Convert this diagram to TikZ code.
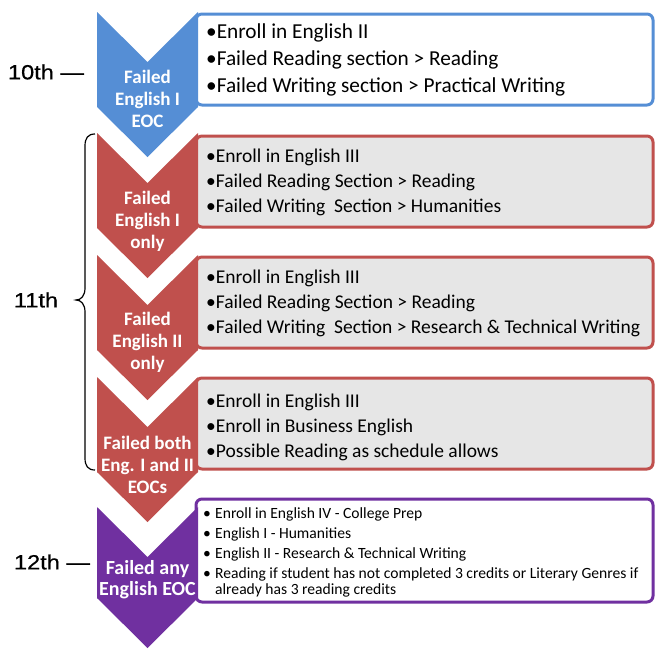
\documentclass[tikz,border=0pt]{standalone}
\usepackage{fontspec}
\setmainfont{Carlito}
\newfontfamily\labfont[FakeStretch=1.15,FakeBold=0.6]{Liberation Sans}
\definecolor{cblue}{HTML}{558ED5}
\definecolor{cred}{HTML}{C0504D}
\definecolor{cpurple}{HTML}{7030A0}
\definecolor{cgray}{HTML}{E6E6E6}
\tikzset{
  boxbase/.style={line width=3pt, rounded corners=6pt},
  chevtext/.style={text=white, font=\bfseries\fontsize{19}{22}\selectfont, align=center, inner sep=0pt},
  boxtext/.style={anchor=west, align=left, inner sep=0pt, text=black},
  gradelab/.style={font=\labfont\fontsize{20.5}{24}\selectfont, inner sep=0pt}
}
\begin{document}
\begin{tikzpicture}[x=1pt,y=-1pt]
\useasboundingbox[fill=white] (0,0) rectangle (655,648);
% boxes
\draw[boxbase, draw=cblue, fill=white] (196,14) rectangle (653,105);
\draw[boxbase, draw=cred, fill=cgray] (196,136) rectangle (653,227);
\draw[boxbase, draw=cred, fill=cgray] (196,257) rectangle (653,348);
\draw[boxbase, draw=cred, fill=cgray] (196,378) rectangle (653,469);
\draw[boxbase, draw=cpurple, fill=white] (196,499) rectangle (653,602);
% chevrons
\fill[cblue] (97,12) -- (147.5,62) -- (198,12) -- (198,107) -- (147.5,157) -- (97,107) -- cycle;
\fill[cred] (97,133) -- (147.5,183) -- (198,133) -- (198,228) -- (147.5,278) -- (97,228) -- cycle;
\fill[cred] (97,255) -- (147.5,305) -- (198,255) -- (198,350) -- (147.5,400) -- (97,350) -- cycle;
\fill[cred] (97,377) -- (147.5,427) -- (198,377) -- (198,472) -- (147.5,522) -- (97,472) -- cycle;
\fill[cpurple] (97,507) -- (147.5,557) -- (198,507) -- (198,598) -- (147.5,648) -- (97,598) -- cycle;
% chevron texts
\node[chevtext] (c1) at (147.5,99) {Failed\\English I\\EOC};
\node[chevtext] (c2) at (147.5,221) {Failed\\English I\\only};
\node[chevtext] (c3) at (147.5,342) {Failed\\English II\\only};
\node[chevtext] (c4) at (147.5,465) {Failed both\\Eng. I and II\\EOCs};
\node[chevtext, font=\bfseries\fontsize{20}{21}\selectfont] (c5) at (147.5,580) {Failed any\\English EOC};
% box texts
\node[boxtext, font=\fontsize{21.3}{27}\selectfont] (t1) at (206,60)
  {•Enroll in English II\\•Failed Reading section > Reading\\•Failed Writing section > Practical Writing};
\node[boxtext, font=\fontsize{19.5}{25}\selectfont] (t2) at (206,182)
  {•Enroll in English III\\•Failed Reading Section > Reading\\•Failed Writing\ \ Section > Humanities};
\node[boxtext, font=\fontsize{19.5}{25}\selectfont] (t3) at (206,303)
  {•Enroll in English III\\•Failed Reading Section > Reading\\•Failed Writing\ \ Section > Research \& Technical Writing};
\node[boxtext, font=\fontsize{19.5}{25}\selectfont] (t4) at (206,427)
  {•Enroll in English III\\•Enroll in Business English\\•Possible Reading as schedule allows};
\node[boxtext, font=\fontsize{15.6}{20}\selectfont, anchor=north west] (t5) at (203,504)
  {\begin{tabular}{@{}p{12pt}@{}l@{}}
   • & Enroll in English IV - College Prep\\[0pt]
   • & English I - Humanities\\[0pt]
   • & English II - Research \& Technical Writing\\[0pt]
   • & Reading if student has not completed 3 credits or Literary Genres if\\[-4pt]
     & already has 3 reading credits
   \end{tabular}};
% grade labels
\node[gradelab] (g10) at (46,72) {10th —};
\node[gradelab] (g11) at (36,300) {11th};
\node[gradelab] (g12) at (52,562) {12th —};
\coordinate (btop) at (95,134);
\coordinate (bbot) at (95,470);
\draw[line width=1.2pt] (btop) .. controls (88,134) and (85,138) .. (85,146) -- (85,288)
  .. controls (85,296) and (81,300) .. (76,300)
  .. controls (81,300) and (85,304) .. (85,312) -- (85,458)
  .. controls (85,466) and (88,470) .. (bbot);
\end{tikzpicture}
\end{document}
